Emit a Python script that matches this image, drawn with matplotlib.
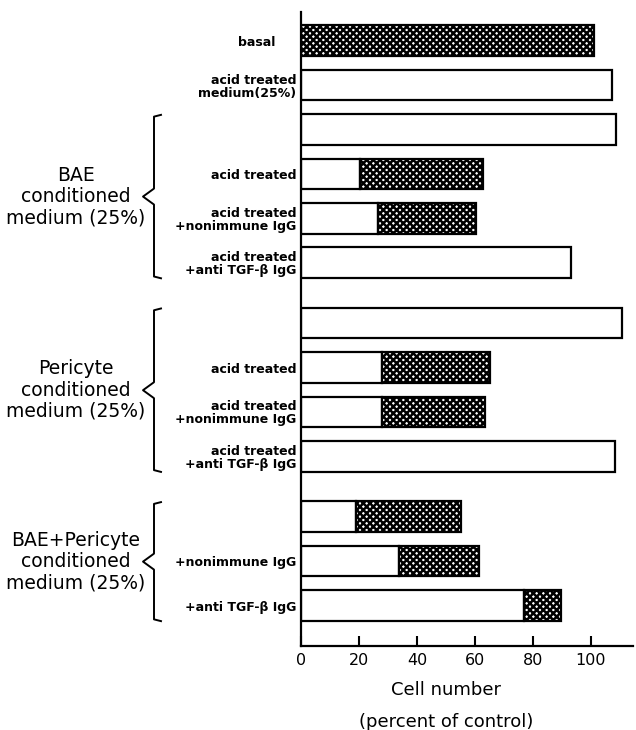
import matplotlib.pyplot as plt
import matplotlib.transforms as mtransforms
import numpy as np

# rows from top to bottom
bar_labels = [
    "basal",
    "acid treated\nmedium(25%)",
    "",
    "acid treated",
    "acid treated\n+nonimmune IgG",
    "acid treated\n+anti TGF-β IgG",
    "",
    "acid treated",
    "acid treated\n+nonimmune IgG",
    "acid treated\n+anti TGF-β IgG",
    "",
    "+nonimmune IgG",
    "+anti TGF-β IgG",
]
# open (white) part of each bar and total bar length, percent of control
open_part = [0, 107.4, 108.7, 20.2, 26.6, 93.2, 110.6, 28.0, 28.0, 108.3, 19.0, 33.8, 76.8]
totals = [101.1, 107.4, 108.7, 62.6, 60.3, 93.2, 110.6, 65.2, 63.4, 108.3, 55.3, 61.3, 89.7]
new_block = [0, 0, 0, 0, 0, 0, 1, 0, 0, 0, 1, 0, 0]

group_names = [
    "BAE\nconditioned\nmedium (25%)",
    "Pericyte\nconditioned\nmedium (25%)",
    "BAE+Pericyte\nconditioned\nmedium (25%)",
]
group_rows = [(2, 5), (6, 9), (10, 12)]
xticks = [0, 20, 40, 60, 80, 100]

plt.rcParams["hatch.linewidth"] = 1.8

W, H = 636, 730
fig = plt.figure(figsize=(W / 100, H / 100), dpi=100)
ax = fig.add_axes([301 / W, 1 - 646 / H, 332 / W, 634 / H])

pos = np.arange(len(totals)) + 0.36 * np.cumsum(new_block)
open_part = np.array(open_part)
totals = np.array(totals)
hatched = totals - open_part

ax.barh(pos, open_part, height=0.69, color="white", edgecolor="black", linewidth=1.6)
has_hatch = hatched > 0
ax.barh(pos[has_hatch], hatched[has_hatch], left=open_part[has_hatch], height=0.69,
        color="white", edgecolor="black", linewidth=1.6, hatch="xxxxx")

ax.set_xlim(0, 114.5)
ax.set_ylim(13.63, -0.646)
for s in ["top", "right"]:
    ax.spines[s].set_visible(False)
for s in ["left", "bottom"]:
    ax.spines[s].set_linewidth(1.6)

ax.set_xticks(xticks)
ax.tick_params(axis="x", direction="in", length=7, width=1.5, labelsize=11.5, pad=5)
ax.set_yticks(pos)
ax.set_yticklabels(bar_labels, fontweight="bold", fontsize=9, linespacing=1.0)
ax.tick_params(axis="y", length=0, pad=3.5)
lbl = ax.get_yticklabels()[0]
lbl.set_transform(lbl.get_transform() + mtransforms.ScaledTranslation(-0.21, 0, fig.dpi_scale_trans))

# group braces and labels
blend = mtransforms.blended_transform_factory(fig.transFigure, ax.transData)
xl, xt, xs = 154 / W, 143 / W, 161 / W
for name, (r0, r1) in zip(group_names, group_rows):
    top = pos[r0] - 0.33
    bot = pos[r1] + 0.35
    mid = (top + bot) / 2
    bx = [xs, xl, xl, xt, xl, xl, xs]
    by = [top, top + 0.04, mid - 0.18, mid, mid + 0.18, bot - 0.04, bot]
    ax.plot(bx, by, color="black", lw=1.4, transform=blend, clip_on=False)
    ax.text(76 / W, mid, name, transform=blend, ha="center", va="center",
            fontsize=13.5, linespacing=1.15)

xblend = mtransforms.blended_transform_factory(ax.transData, fig.transFigure)
ax.text(50, 1 - 690 / H, "Cell number", transform=xblend, ha="center", va="center", fontsize=13)
ax.text(50, 1 - 722 / H, "(percent of control)", transform=xblend, ha="center", va="center", fontsize=13)

fig.savefig("out.png", dpi=100)
